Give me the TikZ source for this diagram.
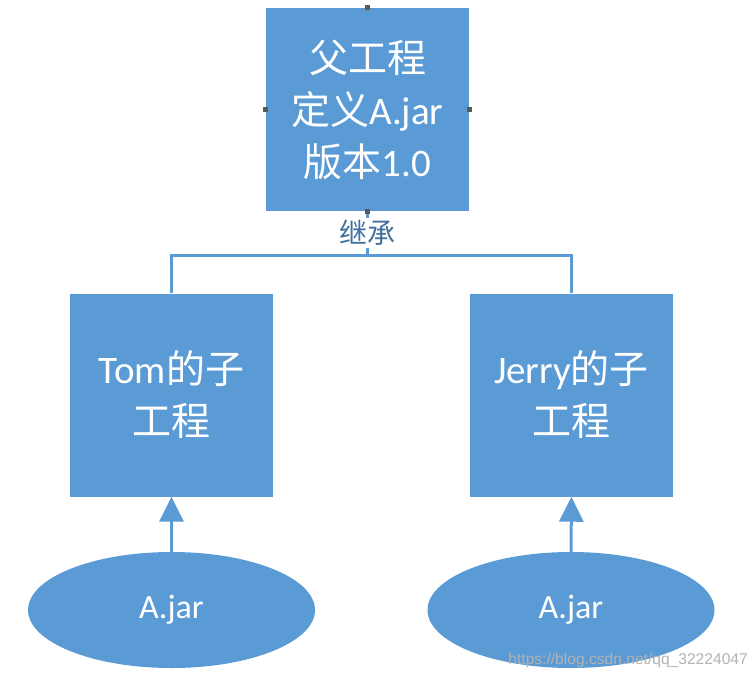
\documentclass[tikz,border=0pt]{standalone}
\usepackage{fontspec}
\setmainfont{Carlito}
\newfontfamily\cjk{Noto Sans CJK SC}
\newfontfamily\urlfont{Liberation Sans}
\usetikzlibrary{arrows.meta,shapes.geometric}
\definecolor{officeblue}{HTML}{5B9BD5}
\definecolor{labelblue}{HTML}{41719C}

\begin{document}
\begin{tikzpicture}[x=1pt, y=-1pt,
    box/.style={fill=officeblue, text=white, minimum width=203pt, minimum height=203pt, align=center, inner sep=0pt, font=\fontsize{39}{52}\selectfont},
    jar/.style={ellipse, fill=officeblue, text=white, minimum width=287pt, minimum height=116pt, inner sep=0pt, font=\fontsize{34}{40}\selectfont},
    link/.style={draw=officeblue, line width=3pt},
    handle/.style={fill=black!65, minimum size=5pt, inner sep=0pt}]
    \useasboundingbox (0,0) rectangle (756,678);

    \node[box] (parent) at (367.5, 109.5) {{\cjk 父工程}\\{\cjk 定义}A.jar\\{\cjk 版本}1.0};
    \node[box] (tom) at (171.5, 395) {Tom{\cjk 的子}\\{\cjk 工程}};
    \node[box] (jerry) at (571.5, 395) {Jerry{\cjk 的子}\\{\cjk 工程}};

    \node[jar] (jar1) at (171.5, 610) {A.jar};
    \node[jar] (jar2) at (571, 610) {A.jar};

    \coordinate (split) at (367.5, 255);
    \draw[link] (parent.south) -- (split);
    \draw[link] (tom.north) |- (split) -| (jerry.north);
    \node[fill=white, text=labelblue, font=\cjk\fontsize{28}{32}\selectfont, inner sep=2pt] (inherit) at (367.5, 233) {继承};

    \draw[link, -{Triangle[width=24pt, length=25pt]}] (jar1.north) -- (tom.south);
    \draw[link, -{Triangle[width=24pt, length=25pt]}] (jar2.north) -- (jerry.south);

    \foreach \side in {north, west, east, south}
        \node[handle] (h-\side) at (parent.\side) {};

    \node[anchor=east, text=gray!60, font=\urlfont\fontsize{15.6}{18}\selectfont, inner sep=0pt] (url) at (748, 660) {https://blog.csdn.net/qq\_32224047};
\end{tikzpicture}
\end{document}
